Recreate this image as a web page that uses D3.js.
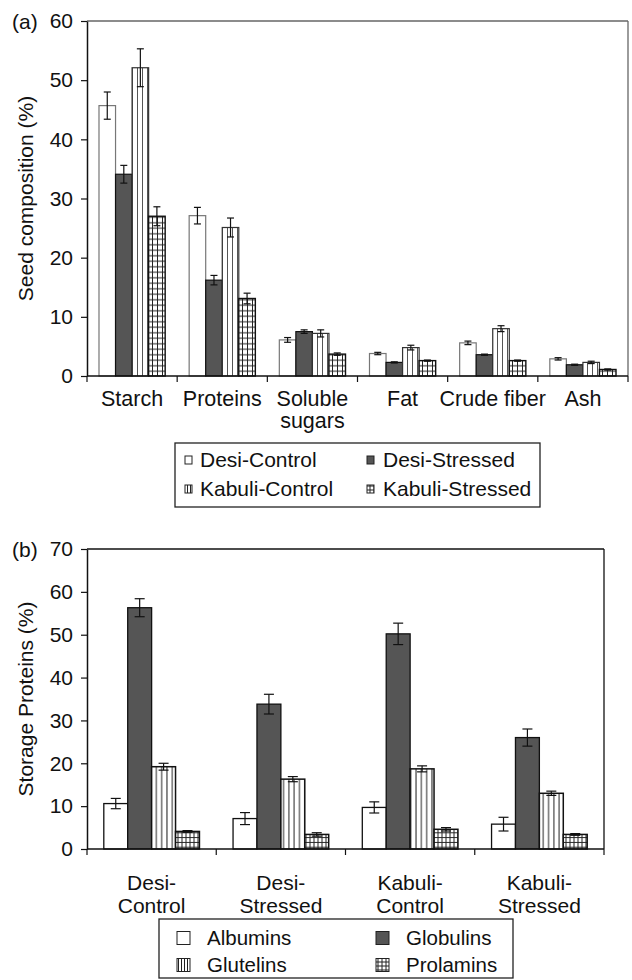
<!DOCTYPE html>
<html><head><meta charset="utf-8">
<script src="https://cdn.jsdelivr.net/npm/d3@7"></script>
<style>
html,body{margin:0;padding:0;background:#fff;}
svg text{font-family:"Liberation Sans",Arial,sans-serif;fill:#111;}
</style></head>
<body>
<svg id="c" width="632" height="980"></svg>
<script>
// ---- Panel (a) data ----
const compCategories = ["Starch", "Proteins", "Soluble sugars", "Fat", "Crude fiber", "Ash"];
const compLabelLines = [["Starch"], ["Proteins"], ["Soluble", "sugars"], ["Fat"], ["Crude fiber"], ["Ash"]];
const compSeries = ["Desi-Control", "Desi-Stressed", "Kabuli-Control", "Kabuli-Stressed"];
const desiControl      = [45.7, 27.1, 6.1, 3.8, 5.6, 2.9];
const desiStressed     = [34.1, 16.2, 7.5, 2.3, 3.6, 1.9];
const kabuliControl    = [52.1, 25.1, 7.2, 4.8, 8.0, 2.3];
const kabuliStressed   = [27.0, 13.1, 3.7, 2.6, 2.6, 1.1];
const desiControlErr   = [2.3, 1.4, 0.4, 0.2, 0.3, 0.2];
const desiStressedErr  = [1.5, 0.8, 0.3, 0.1, 0.1, 0.1];
const kabuliControlErr = [3.2, 1.6, 0.6, 0.4, 0.5, 0.2];
const kabuliStressedErr= [1.6, 0.9, 0.2, 0.1, 0.1, 0.1];
const compTicks = [0, 10, 20, 30, 40, 50, 60];

// ---- Panel (b) data ----
const protGroups = ["Desi-Control", "Desi-Stressed", "Kabuli-Control", "Kabuli-Stressed"];
const protLabelLines = [["Desi-", "Control"], ["Desi-", "Stressed"], ["Kabuli-", "Control"], ["Kabuli-", "Stressed"]];
const protSeries = ["Albumins", "Globulins", "Glutelins", "Prolamins"];
const albumins     = [10.6, 7.1, 9.7, 5.8];
const globulins    = [56.3, 33.8, 50.2, 26.0];
const glutelins    = [19.2, 16.3, 18.7, 13.0];
const prolamins    = [4.1, 3.4, 4.6, 3.4];
const albuminsErr  = [1.2, 1.4, 1.3, 1.6];
const globulinsErr = [2.1, 2.3, 2.5, 2.0];
const glutelinsErr = [0.8, 0.6, 0.7, 0.5];
const prolaminsErr = [0.2, 0.4, 0.4, 0.2];
const protTicks = [0, 10, 20, 30, 40, 50, 60, 70];

const svg = d3.select("#c");
const defs = svg.append("defs");

function vlinePattern(id, w, col) {
  const p = defs.append("pattern").attr("id", id).attr("patternUnits", "userSpaceOnUse")
    .attr("width", w).attr("height", 10);
  p.append("rect").attr("width", w).attr("height", 10).attr("fill", "#fff");
  p.append("line").attr("x1", w / 2).attr("x2", w / 2).attr("y1", 0).attr("y2", 10)
    .attr("stroke", col).attr("stroke-width", 1);
}
function gridPattern(id, w, h, col) {
  const p = defs.append("pattern").attr("id", id).attr("patternUnits", "userSpaceOnUse")
    .attr("width", w).attr("height", h);
  p.append("rect").attr("width", w).attr("height", h).attr("fill", "#fff");
  p.append("line").attr("x1", w / 2).attr("x2", w / 2).attr("y1", 0).attr("y2", h)
    .attr("stroke", col).attr("stroke-width", 1);
  p.append("line").attr("x1", 0).attr("x2", w).attr("y1", h / 2).attr("y2", h / 2)
    .attr("stroke", col).attr("stroke-width", 1);
}
vlinePattern("vA", 5, "#555");
gridPattern("gA", 5, 5.5, "#222");
vlinePattern("vB", 5.3, "#222");
gridPattern("gB", 4, 4.8, "#222");
vlinePattern("vL", 3, "#222");
gridPattern("gL", 4, 4, "#222");

function panel(opt) {
  const g = svg.append("g");
  const x0 = d3.scaleBand().domain(opt.cats).range([opt.left, opt.right]).padding(0);
  const x1 = d3.scaleBand().domain(opt.series)
    .range([x0.bandwidth() * opt.inset, x0.bandwidth() * (1 - opt.inset)]).padding(0);
  const y = d3.scaleLinear().domain([0, opt.ymax]).range([opt.bottom, opt.top]);

  // frame (top/right)
  g.append("line").attr("x1", opt.left).attr("x2", opt.right).attr("y1", opt.top).attr("y2", opt.top)
    .attr("stroke", opt.frameCol).attr("stroke-width", 1.3);
  g.append("line").attr("x1", opt.right).attr("x2", opt.right).attr("y1", opt.top).attr("y2", opt.bottom)
    .attr("stroke", opt.frameCol).attr("stroke-width", 1.3);

  // bars
  opt.series.forEach((s, si) => {
    const vals = opt.values[si], errs = opt.errs[si], st = opt.styles[si];
    const bg = g.append("g");
    bg.selectAll("rect").data(opt.cats).join("rect")
      .attr("x", (c) => x0(c) + x1(s))
      .attr("y", (c, i) => y(vals[i]))
      .attr("width", x1.bandwidth())
      .attr("height", (c, i) => y(0) - y(vals[i]))
      .attr("fill", st.fill).attr("stroke", st.stroke).attr("stroke-width", st.sw);
    const eg = g.append("g").attr("stroke", "#111").attr("stroke-width", 1.2);
    opt.cats.forEach((c, i) => {
      const cx = x0(c) + x1(s) + x1.bandwidth() / 2;
      const y1 = y(vals[i] + errs[i]), y2 = y(vals[i] - errs[i]);
      eg.append("line").attr("x1", cx).attr("x2", cx).attr("y1", y1).attr("y2", y2);
      eg.append("line").attr("x1", cx - opt.cap).attr("x2", cx + opt.cap).attr("y1", y1).attr("y2", y1);
      eg.append("line").attr("x1", cx - opt.cap).attr("x2", cx + opt.cap).attr("y1", y2).attr("y2", y2);
    });
  });

  // y axis
  const ya = g.append("g").attr("transform", `translate(${opt.left},0)`)
    .call(d3.axisLeft(y).tickValues(opt.ticks).tickSize(6).tickSizeOuter(0).tickPadding(8));
  ya.select(".domain").attr("stroke", "#111").attr("stroke-width", 1.5);
  ya.selectAll(".tick line").attr("stroke", "#111").attr("stroke-width", 1.2);
  ya.selectAll(".tick text").attr("font-size", 21).attr("fill", "#111")
    .style("font-family", '"Liberation Sans",Arial,sans-serif');

  // x axis baseline + ticks at band boundaries
  g.append("line").attr("x1", opt.left).attr("x2", opt.right).attr("y1", y(0)).attr("y2", y(0))
    .attr("stroke", "#111").attr("stroke-width", 1.6);
  const bounds = opt.cats.map((c) => x0(c)).concat([x0.range()[1]]);
  g.selectAll(".xt").data(bounds).join("line")
    .attr("x1", (d) => d).attr("x2", (d) => d).attr("y1", y(0)).attr("y2", y(0) + 6)
    .attr("stroke", "#111").attr("stroke-width", 1.2);

  // category labels
  opt.cats.forEach((c, i) => {
    const t = g.append("text").attr("text-anchor", "middle").attr("font-size", opt.catFS)
      .attr("x", x0(c) + x0.bandwidth() / 2).attr("y", opt.labelY);
    opt.labels[i].forEach((ln, k) => {
      t.append("tspan").attr("x", x0(c) + x0.bandwidth() / 2).attr("dy", k === 0 ? 0 : opt.lineH).text(ln);
    });
  });

  // y title
  g.append("text").attr("font-size", 21).attr("text-anchor", "middle")
    .attr("transform", `translate(33,${(opt.top + opt.bottom) / 2}) rotate(-90)`).text(opt.ytitle);
  // panel letter
  g.append("text").attr("font-size", 21).attr("x", 12).attr("y", opt.top + 8).text(opt.letter);

  // legend
  const L = opt.legend;
  g.append("rect").attr("x", L.x).attr("y", L.y).attr("width", L.w).attr("height", L.h)
    .attr("fill", "#fff").attr("stroke", "#222").attr("stroke-width", 1.3);
  opt.series.forEach((s, si) => {
    const col = si % 2, row = Math.floor(si / 2);
    const sx = L.x + L.sx[col], ry = L.y + L.rows[row];
    const st = opt.legStyles[si];
    g.append("rect").attr("x", sx).attr("y", ry - L.sh / 2).attr("width", L.sw).attr("height", L.sh)
      .attr("fill", st.fill).attr("stroke", "#222").attr("stroke-width", 1);
    g.append("text").attr("font-size", L.fs).attr("x", L.x + L.tx[col]).attr("y", ry + 7).text(s);
  });
}

panel({
  cats: compCategories, series: compSeries, labels: compLabelLines,
  values: [desiControl, desiStressed, kabuliControl, kabuliStressed],
  errs: [desiControlErr, desiStressedErr, kabuliControlErr, kabuliStressedErr],
  styles: [
    { fill: "#fff", stroke: "#777", sw: 1.2 },
    { fill: "#555", stroke: "#111", sw: 1.2 },
    { fill: "url(#vA)", stroke: "#333", sw: 1.2 },
    { fill: "url(#gA)", stroke: "#111", sw: 1.4 }
  ],
  legStyles: [{ fill: "#fff" }, { fill: "#555" }, { fill: "url(#vL)" }, { fill: "url(#gL)" }],
  left: 87, right: 628, top: 21, bottom: 376, ymax: 60, ticks: compTicks, inset: 0.133, cap: 3.5,
  frameCol: "#666", labelY: 406, lineH: 22, catFS: 21.5, ytitle: "Seed composition (%)", letter: "(a)",
  legend: { x: 175, y: 443, w: 365, h: 64, rows: [17, 46], sx: [10, 192], tx: [25, 208], sw: 7, sh: 8, fs: 21 }
});

panel({
  cats: protGroups, series: protSeries, labels: protLabelLines,
  values: [albumins, globulins, glutelins, prolamins],
  errs: [albuminsErr, globulinsErr, glutelinsErr, prolaminsErr],
  styles: [
    { fill: "#fff", stroke: "#111", sw: 1.3 },
    { fill: "#555", stroke: "#111", sw: 1.3 },
    { fill: "url(#vB)", stroke: "#111", sw: 1.5 },
    { fill: "url(#gB)", stroke: "#111", sw: 1.5 }
  ],
  legStyles: [{ fill: "#fff" }, { fill: "#555" }, { fill: "url(#vL)" }, { fill: "url(#gL)" }],
  left: 87, right: 604, top: 549, bottom: 849, ymax: 70, ticks: protTicks, inset: 0.13, cap: 5,
  frameCol: "#111", labelY: 890, lineH: 23, catFS: 21, ytitle: "Storage Proteins (%)", letter: "(b)",
  legend: { x: 159, y: 919, w: 354, h: 59, rows: [19, 46], sx: [18, 217], tx: [48, 247], sw: 13, sh: 13, fs: 20.5 }
});
</script>
</body></html>
